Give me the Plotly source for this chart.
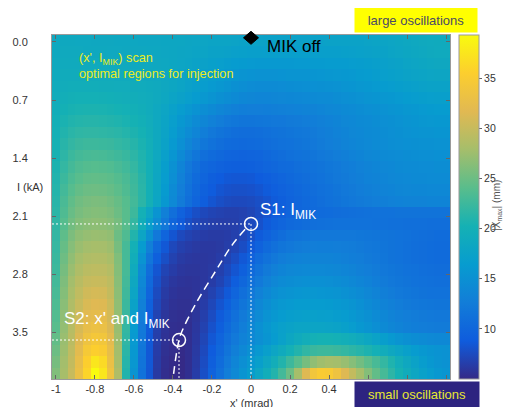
import plotly.graph_objects as go

# ---------------- data ----------------
X_START, X_STEP = -1.0, 0.04          # x' (mrad) of first column, column step
I_START, I_STEP = -0.015, 0.1383      # I (kA) of first row, row step

X_TICKS = [-1, -0.8, -0.6, -0.4, -0.2, 0, 0.2, 0.4, 0.6, 0.8, 1]
# labels 0.6, 0.8 and 1 are hidden behind the "small oscillations" box in the reference
X_TICK_TEXT = ["-1", "-0.8", "-0.6", "-0.4", "-0.2", "0", "0.2", "0.4", "", "", ""]
I_TICKS = [0.0, 0.7, 1.4, 2.1, 2.8, 3.5]
I_TICK_TEXT = ["0.0", "0.7", "1.4", "2.1", "2.8", "3.5"]
CB_TICKS = [10, 15, 20, 25, 30, 35]
Z_MIN, Z_MAX = 5.0, 39.3

# |X_max| (mm), one row per MIK current step (top to bottom), 51 x' columns
xmax_rows = [
 [18.6,18.7,18.7,18.6,18.6,18.5,18.5,18.5,18.4,18.4, 18.4,18.3,18.3,18.3,18.2,18.2,18.2,18.1,18.0,18.0, 17.9,17.8,17.8,17.7,17.6,17.5,17.5,17.4,17.4,17.4, 17.4,17.4,17.4,17.4,17.4,17.5,17.5,17.5,17.6,17.6, 17.7,17.8,17.9,18.0,18.2,18.4,18.6,18.8,18.9,19.0,19.0],
 [18.7,18.8,18.8,18.8,18.7,18.7,18.7,18.6,18.6,18.5, 18.5,18.5,18.4,18.4,18.3,18.2,18.1,18.0,17.9,17.8, 17.6,17.5,17.4,17.2,17.1,17.0,17.0,16.9,16.9,16.9, 16.9,16.9,16.9,16.9,17.0,17.0,17.0,17.1,17.2,17.3, 17.4,17.5,17.6,17.8,18.0,18.2,18.4,18.6,18.8,18.9,18.9],
 [18.8,19.0,19.0,19.0,19.0,18.9,18.9,18.9,18.8,18.8, 18.7,18.7,18.6,18.5,18.4,18.2,18.0,17.8,17.6,17.4, 17.1,16.9,16.7,16.5,16.3,16.2,16.1,16.1,16.1,16.1, 16.1,16.2,16.2,16.3,16.3,16.4,16.4,16.5,16.6,16.7, 16.8,17.0,17.2,17.4,17.6,17.8,18.0,18.2,18.4,18.5,18.5],
 [19.0,19.2,19.2,19.2,19.2,19.2,19.1,19.1,19.0,19.0, 18.9,18.8,18.7,18.6,18.4,18.2,17.9,17.6,17.3,17.0, 16.7,16.4,16.1,15.8,15.5,15.3,15.2,15.2,15.2,15.3, 15.4,15.5,15.5,15.6,15.7,15.8,15.9,16.0,16.1,16.3, 16.5,16.7,16.9,17.1,17.3,17.5,17.7,17.9,18.0,18.1,18.1],
 [19.1,19.4,19.5,19.5,19.5,19.5,19.4,19.4,19.3,19.3, 19.2,19.1,19.0,18.8,18.5,18.2,17.8,17.4,17.0,16.6, 16.2,15.8,15.4,15.0,14.7,14.5,14.4,14.4,14.4,14.5, 14.6,14.7,14.8,14.9,15.0,15.1,15.2,15.4,15.6,15.8, 16.0,16.2,16.4,16.6,16.8,17.0,17.2,17.4,17.5,17.6,17.6],
 [19.3,19.7,19.9,20.0,20.0,20.0,19.9,19.8,19.7,19.6, 19.5,19.3,19.1,18.8,18.4,17.9,17.4,16.9,16.4,15.9, 15.4,15.0,14.6,14.2,13.9,13.7,13.6,13.6,13.7,13.8, 13.9,14.0,14.1,14.2,14.3,14.4,14.6,14.8,15.0,15.2, 15.4,15.6,15.8,16.0,16.2,16.4,16.6,16.8,16.9,17.0,17.0],
 [19.5,20.1,20.4,20.5,20.6,20.6,20.5,20.4,20.2,20.0, 19.8,19.5,19.1,18.6,18.0,17.3,16.6,15.9,15.3,14.7, 14.2,13.7,13.3,13.0,12.8,12.7,12.7,12.8,12.9,13.0, 13.1,13.2,13.3,13.4,13.6,13.8,14.0,14.2,14.4,14.6, 14.8,15.0,15.2,15.4,15.6,15.8,16.0,16.2,16.3,16.4,16.4],
 [19.8,20.5,20.9,21.1,21.2,21.2,21.1,21.0,20.8,20.5, 20.2,19.8,19.3,18.6,17.8,16.9,16.0,15.2,14.4,13.7, 13.1,12.6,12.2,11.9,11.7,11.7,11.8,11.9,12.0,12.1, 12.3,12.4,12.6,12.8,13.0,13.2,13.5,13.8,14.0,14.2, 14.4,14.6,14.8,15.0,15.2,15.4,15.6,15.8,15.9,16.0,16.0],
 [20.0,20.9,21.4,21.7,21.8,21.8,21.7,21.6,21.4,21.1, 20.7,20.2,19.5,18.7,17.7,16.6,15.5,14.5,13.6,12.8, 12.1,11.6,11.2,10.9,10.8,10.8,10.9,11.1,11.3,11.5, 11.7,11.9,12.1,12.3,12.6,12.9,13.2,13.5,13.8,14.0, 14.2,14.4,14.6,14.8,15.0,15.2,15.3,15.4,15.5,15.6,15.6],
 [20.2,21.3,21.9,22.3,22.5,22.5,22.4,22.3,22.0,21.7, 21.2,20.5,19.7,18.7,17.5,16.2,14.9,13.7,12.7,11.9, 11.4,10.9,10.6,10.4,10.3,10.4,10.6,10.8,11.0,11.2, 11.4,11.6,11.8,12.1,12.4,12.7,13.0,13.3,13.6,13.9, 14.1,14.3,14.5,14.7,14.8,14.9,15.0,15.1,15.1,15.2,15.2],
 [20.4,21.6,22.4,22.9,23.1,23.2,23.1,22.9,22.6,22.2, 21.6,20.8,19.8,18.6,17.2,15.7,14.2,12.9,11.8,11.0, 10.6,10.2,9.9,9.7,9.6,9.7,9.9,10.2,10.5,10.8, 11.1,11.3,11.5,11.7,12.0,12.3,12.6,12.9,13.2,13.5, 13.8,14.0,14.2,14.4,14.5,14.6,14.7,14.8,14.8,14.9,14.9],
 [20.7,22.0,22.9,23.5,23.8,23.9,23.8,23.6,23.2,22.7, 22.0,21.0,19.8,18.4,16.8,15.1,13.5,12.1,11.0,10.2, 9.9,9.5,9.3,9.2,9.2,9.3,9.5,9.8,10.1,10.4, 10.6,10.9,11.1,11.4,11.6,11.9,12.2,12.5,12.8,13.1, 13.4,13.6,13.8,14.0,14.2,14.3,14.4,14.5,14.5,14.6,14.6],
 [20.9,22.4,23.4,24.0,24.4,24.5,24.4,24.2,23.8,23.2, 22.4,21.3,19.9,18.3,16.6,14.8,13.1,11.7,10.6,9.8, 9.2,8.8,8.5,8.4,8.4,8.5,8.8,9.1,9.5,9.9, 10.2,10.5,10.8,11.1,11.4,11.7,12.0,12.3,12.6,12.9, 13.2,13.4,13.6,13.8,14.0,14.1,14.2,14.2,14.3,14.3,14.3],
 [21.1,22.8,23.9,24.6,25.0,25.1,25.0,24.7,24.2,23.5, 22.6,21.4,19.9,18.2,16.3,14.4,12.7,11.3,10.2,9.4, 8.8,8.3,8.0,7.9,7.9,8.0,8.3,8.7,9.1,9.5, 9.9,10.2,10.5,10.8,11.1,11.4,11.7,12.0,12.3,12.6, 12.9,13.1,13.3,13.5,13.7,13.8,13.9,13.9,14.0,14.0,14.0],
 [21.3,23.2,24.4,25.2,25.6,25.8,25.7,25.3,24.7,23.9, 22.8,21.5,19.9,18.0,16.0,14.1,12.4,11.0,9.9,9.0, 8.3,7.8,7.5,7.4,7.4,7.5,7.8,8.2,8.7,9.2, 9.6,10.0,10.3,10.6,10.9,11.2,11.5,11.8,12.1,12.3, 12.5,12.7,12.9,13.1,13.2,13.3,13.4,13.4,13.5,13.5,13.5],
 [21.5,23.5,24.8,25.6,26.0,26.2,26.1,25.8,25.0,24.0, 22.5,20.0,18.0,15.5,13.0,11.0,9.5,8.5,7.8,7.3, 7.0,6.8,6.7,6.7,6.8,7.1,7.6,8.2,8.8,9.3, 9.7,10.0,10.2,10.4,10.6,10.7,10.8,10.9,11.0,11.1, 11.2,11.3,11.4,11.4,11.5,11.5,11.5,11.5,11.5,11.5,11.5],
 [21.7,23.9,25.3,26.1,26.5,26.7,26.6,26.3,25.5,24.0, 22.0,19.5,17.0,14.5,12.0,10.0,8.7,7.8,7.2,6.8, 6.6,6.5,6.5,6.6,6.9,7.4,8.0,8.7,9.4,9.9, 10.3,10.6,10.8,11.0,11.1,11.2,11.3,11.3,11.3,11.3, 11.3,11.2,11.2,11.1,11.1,11.0,11.0,11.0,10.9,10.9,10.9],
 [21.9,24.3,25.8,26.7,27.1,27.3,27.2,26.9,25.0,23.5, 21.0,18.0,15.0,12.0,9.8,8.3,7.4,6.9,6.6,6.4, 6.3,6.3,6.4,6.7,7.2,7.9,8.7,9.5,10.2,10.8, 11.3,11.6,11.8,12.0,12.1,12.1,12.1,12.1,12.0,11.9, 11.8,11.7,11.6,11.5,11.4,11.2,11.0,10.9,10.8,10.7,10.7],
 [22.1,24.7,26.3,27.3,27.8,28.0,27.9,27.5,25.5,23.0, 20.0,16.5,13.0,10.3,8.5,7.3,6.7,6.4,6.2,6.1, 6.1,6.2,6.5,7.0,7.7,8.6,9.5,10.4,11.1,11.7, 12.1,12.4,12.6,12.7,12.8,12.8,12.7,12.6,12.5,12.3, 12.1,11.9,11.7,11.5,11.3,11.1,10.9,10.8,10.7,10.6,10.6],
 [22.3,25.1,26.8,27.9,28.5,28.7,28.6,28.1,26.0,23.0, 19.5,15.5,11.8,9.3,7.8,6.8,6.3,6.1,6.0,6.0, 6.1,6.4,6.9,7.6,8.5,9.5,10.5,11.4,12.1,12.6, 13.0,13.2,13.3,13.4,13.4,13.3,13.2,13.0,12.8,12.6, 12.3,12.0,11.8,11.5,11.3,11.1,10.9,10.8,10.7,10.6,10.6],
 [22.5,25.5,27.3,28.5,29.2,29.4,29.3,28.8,26.2,23.0, 19.0,14.5,10.8,8.3,7.0,6.4,6.0,5.9,5.9,6.0, 6.2,6.7,7.4,8.3,9.3,10.4,11.4,12.3,13.0,13.5, 13.8,14.0,14.1,14.1,14.1,14.0,13.8,13.6,13.3,13.0, 12.7,12.4,12.1,11.8,11.6,11.4,11.2,11.0,10.9,10.8,10.8],
 [22.8,25.9,27.8,29.1,29.9,30.1,30.0,29.4,26.4,22.8, 18.5,14.0,10.3,7.9,6.6,6.0,5.8,5.7,5.8,6.0, 6.4,7.0,7.9,9.0,10.1,11.2,12.2,13.1,13.8,14.3, 14.6,14.8,14.9,14.9,14.9,14.8,14.6,14.3,14.0,13.6, 13.2,12.8,12.4,12.1,11.8,11.6,11.4,11.2,11.1,11.0,11.0],
 [23.1,26.2,28.2,29.6,30.6,30.9,30.8,29.8,26.6,22.6, 18.0,13.5,9.8,7.5,6.3,5.8,5.6,5.6,5.8,6.2, 6.8,7.6,8.6,9.8,11.0,12.1,13.1,14.0,14.7,15.2, 15.5,15.7,15.8,15.8,15.7,15.6,15.4,15.1,14.7,14.3, 13.8,13.3,12.9,12.5,12.2,11.9,11.7,11.5,11.4,11.3,11.3],
 [23.4,26.5,28.5,30.0,31.2,31.6,31.5,30.3,26.8,22.4, 17.5,13.0,9.4,7.2,6.1,5.6,5.5,5.5,5.8,6.4, 7.2,8.2,9.3,10.5,11.7,12.8,13.8,14.7,15.4,15.9, 16.2,16.4,16.5,16.5,16.4,16.3,16.1,15.8,15.4,14.9, 14.4,13.9,13.4,13.0,12.6,12.3,12.1,11.9,11.8,11.7,11.7],
 [23.7,26.8,28.8,30.5,31.8,32.3,32.2,30.8,27.0,22.2, 17.0,12.6,9.0,6.9,5.9,5.5,5.4,5.5,5.9,6.6, 7.6,8.7,9.9,11.1,12.3,13.4,14.4,15.3,16.0,16.5, 16.8,17.0,17.1,17.1,17.0,16.9,16.7,16.4,16.0,15.5, 15.0,14.4,13.9,13.4,13.0,12.7,12.5,12.3,12.2,12.1,12.1],
 [24.0,27.0,29.0,31.0,32.5,33.2,33.0,31.3,27.2,22.0, 16.5,12.2,8.7,6.6,5.7,5.4,5.3,5.4,6.0,6.8, 8.0,9.2,10.4,11.6,12.8,13.9,14.9,15.8,16.6,17.2, 17.6,17.8,17.9,17.9,17.8,17.7,17.5,17.1,16.6,16.0, 15.4,14.8,14.2,13.7,13.3,13.0,12.8,12.6,12.5,12.4,12.4],
 [24.5,27.3,29.2,31.5,33.5,34.3,34.0,32.0,27.5,21.8, 16.2,12.0,8.6,6.5,5.6,5.3,5.2,5.4,6.1,7.1, 8.4,9.7,11.0,12.2,13.2,14.0,14.8,15.6,16.4,17.3, 18.2,19.0,19.6,20.0,20.2,20.2,20.0,19.7,19.3,18.8, 18.2,17.5,16.8,16.1,15.5,15.0,14.6,14.3,14.1,14.0,14.0],
 [25.0,27.5,29.5,32.0,34.5,35.5,35.0,32.5,27.8,21.5, 16.0,11.8,8.5,6.4,5.5,5.2,5.1,5.4,6.2,7.4, 8.8,10.2,11.6,12.9,14.0,15.0,16.0,17.0,18.0,19.0, 20.0,21.0,21.8,22.3,22.5,22.5,22.3,22.0,21.6,21.2, 20.7,20.0,19.3,18.5,17.8,17.1,16.5,16.0,15.6,15.3,15.2],
 [25.5,27.8,29.8,32.5,35.5,37.5,36.5,33.0,28.0,21.2, 15.8,11.6,8.5,6.3,5.4,5.1,5.0,5.4,6.3,7.6, 9.2,10.7,12.2,13.6,14.8,15.9,17.0,18.3,19.6,21.0, 22.5,24.0,25.5,26.8,27.6,28.0,27.8,27.2,26.3,25.3, 24.2,23.1,22.0,20.8,19.6,18.5,17.5,16.7,16.0,15.5,15.2],
 [26.0,28.0,30.0,33.0,36.0,39.3,37.5,33.5,28.5,21.0, 15.5,11.4,8.4,6.2,5.3,5.0,5.0,5.4,6.4,7.8, 9.5,11.1,12.7,14.1,15.4,16.7,18.0,19.5,21.0,22.8, 25.0,28.0,31.5,34.0,35.0,34.8,33.5,31.5,29.8,28.0, 26.2,24.5,23.0,21.6,20.3,19.2,18.2,17.3,16.6,16.0,15.6],
]

# annotation geometry (working points)
S1_X, S1_I = 0.0, 2.195
S2_X, S2_I = -0.369, 3.595
CURVE_X = [-0.03, -0.097, -0.183, -0.286, -0.354, -0.369, -0.385, -0.40]
CURVE_I = [2.26, 2.45, 2.77, 3.17, 3.49, 3.595, 3.80, 4.065]
MIK_OFF_X, MIK_OFF_I = 0.0, -0.05
X_RANGE = [-1.02, 1.02]
I_RANGE = [4.065, -0.084]

parula = [
    [0.0, "rgb(53,42,135)"],
    [1/9, "rgb(15,92,221)"],
    [2/9, "rgb(18,125,216)"],
    [3/9, "rgb(7,156,207)"],
    [4/9, "rgb(21,177,180)"],
    [5/9, "rgb(89,189,140)"],
    [6/9, "rgb(165,190,107)"],
    [7/9, "rgb(225,185,82)"],
    [8/9, "rgb(252,206,46)"],
    [1.0, "rgb(249,251,14)"],
]

FONT = "Liberation Sans, Arial, sans-serif"

fig = go.Figure()
fig.add_trace(go.Heatmap(
    z=xmax_rows, x0=X_START, dx=X_STEP, y0=I_START, dy=I_STEP,
    colorscale=parula, zmin=Z_MIN, zmax=Z_MAX, zsmooth=False,
    hoverinfo="skip",
    colorbar=dict(
        x=1.0226, xanchor="left", xpad=0, ypad=0,
        y=0.5, yanchor="middle", len=1, lenmode="fraction",
        thickness=20, thicknessmode="pixels",
        outlinewidth=1, outlinecolor="#9a9a9a",
        tickvals=CB_TICKS, ticks="outside", ticklen=3, tickcolor="#666",
        tickfont=dict(family=FONT, size=10.5, color="#333"),
    ),
))

line_style = dict(color="white", width=1, dash="2px,2px")
# dotted guide lines
fig.add_trace(go.Scatter(x=[X_RANGE[0], S1_X], y=[S1_I, S1_I], mode="lines",
                         line=line_style, hoverinfo="skip", showlegend=False))
fig.add_trace(go.Scatter(x=[S1_X, S1_X], y=[S1_I, I_RANGE[0]], mode="lines",
                         line=line_style, hoverinfo="skip", showlegend=False))
fig.add_trace(go.Scatter(x=[X_RANGE[0], S2_X], y=[S2_I, S2_I], mode="lines",
                         line=line_style, hoverinfo="skip", showlegend=False))
fig.add_trace(go.Scatter(x=[S2_X, S2_X], y=[S2_I, I_RANGE[0]], mode="lines",
                         line=line_style, hoverinfo="skip", showlegend=False))
# dashed optimum curve
fig.add_trace(go.Scatter(x=CURVE_X, y=CURVE_I, mode="lines",
                         line=dict(color="white", width=1.5, dash="8px,5px", shape="spline"),
                         hoverinfo="skip", showlegend=False))
# circles
fig.add_trace(go.Scatter(x=[S1_X, S2_X], y=[S1_I, S2_I], mode="markers",
                         marker=dict(symbol="circle-open", size=13, color="white",
                                     line=dict(width=1.5, color="white")),
                         hoverinfo="skip", showlegend=False))

# "MIK off" diamond: pixel-sized shape anchored at the data point (in paper units so it is
# not clipped by the plot area), drawn above the axes
mik_px = (MIK_OFF_X - X_RANGE[0]) / (X_RANGE[1] - X_RANGE[0])
mik_py = (I_RANGE[0] - MIK_OFF_I) / (I_RANGE[0] - I_RANGE[1])
shapes = [dict(type="path", xref="paper", yref="paper", xsizemode="pixel", ysizemode="pixel",
               xanchor=mik_px, yanchor=mik_py,
               path="M -7.5 0 L 0 6.5 L 7.5 0 L 0 -6.5 Z",
               fillcolor="black", line=dict(color="black", width=1), layer="above")]

ann = []
ann.append(dict(x=-0.893, y=0.2, xref="x", yref="y", xanchor="left", yanchor="middle",
                showarrow=False, text="(x', I<sub>MIK</sub>) scan",
                font=dict(family=FONT, size=12.7, color="#ecec1e")))
ann.append(dict(x=-0.893, y=0.39, xref="x", yref="y", xanchor="left", yanchor="middle",
                showarrow=False, text="optimal regions for injection",
                font=dict(family=FONT, size=12.7, color="#ecec1e")))
ann.append(dict(x=0.072, y=0.06, xref="x", yref="y", xanchor="left", yanchor="middle",
                showarrow=False, text="MIK off",
                font=dict(family=FONT, size=17, color="black")))
ann.append(dict(x=0.035, y=2.04, xref="x", yref="y", xanchor="left", yanchor="middle",
                showarrow=False, text="S1: I<sub>MIK</sub>",
                font=dict(family=FONT, size=17, color="white")))
ann.append(dict(x=-0.968, y=3.35, xref="x", yref="y", xanchor="left", yanchor="middle",
                showarrow=False, text="S2: x' and I<sub>MIK</sub>",
                font=dict(family=FONT, size=17, color="white")))
ann.append(dict(x=0.9146, y=1.0436, xref="paper", yref="paper", xanchor="center", yanchor="middle",
                showarrow=False, text="large oscillations", bgcolor="#ffff00",
                width=120, height=22, borderpad=1,
                font=dict(family=FONT, size=13, color="#4a4a66")))
ann.append(dict(x=0.917, y=-0.045, xref="paper", yref="paper", xanchor="center", yanchor="middle",
                showarrow=False, text="small oscillations", bgcolor="#2d2480",
                width=122, height=23, borderpad=1,
                font=dict(family=FONT, size=13, color="#e8e830")))
ann.append(dict(x=-0.0553, y=0.558, xref="paper", yref="paper", xanchor="center", yanchor="middle",
                showarrow=False, text="I (kA)",
                font=dict(family=FONT, size=11, color="#333")))
ann.append(dict(x=0.5, y=-0.0698, xref="paper", yref="paper", xanchor="center", yanchor="middle",
                showarrow=False, text="x' (mrad)",
                font=dict(family=FONT, size=11, color="#333")))
ann.append(dict(x=1.118, y=0.506, xref="paper", yref="paper", xanchor="center", yanchor="middle",
                showarrow=False, textangle=-90, text="|X<sub>max</sub>| (mm)",
                font=dict(family=FONT, size=10, color="#555")))

# the page body has an 8 px margin, so the figure is 8 px smaller than the window
fig.update_layout(
    width=503, height=399,
    margin=dict(l=44, r=61, t=27, b=28, autoexpand=False),
    paper_bgcolor="white", plot_bgcolor="white",
    font=dict(family=FONT, size=11, color="#333"),
    annotations=ann, shapes=shapes,
    showlegend=False,
    xaxis=dict(range=X_RANGE, tickvals=X_TICKS, ticktext=X_TICK_TEXT, automargin=False,
               ticks="inside", ticklen=4, tickcolor="#666", showgrid=False, zeroline=False,
               showline=True, linecolor="#9a9a9a", linewidth=1, mirror="ticks",
               tickfont=dict(family=FONT, size=11, color="#333")),
    yaxis=dict(range=I_RANGE, tickvals=I_TICKS, ticktext=I_TICK_TEXT, automargin=False,
               ticks="inside", ticklen=4, tickcolor="#666", showgrid=False, zeroline=False,
               showline=True, linecolor="#9a9a9a", linewidth=1, mirror="ticks",
               ticklabelstandoff=21,
               tickfont=dict(family=FONT, size=11, color="#333")),
)

fig.write_html("out.html")
